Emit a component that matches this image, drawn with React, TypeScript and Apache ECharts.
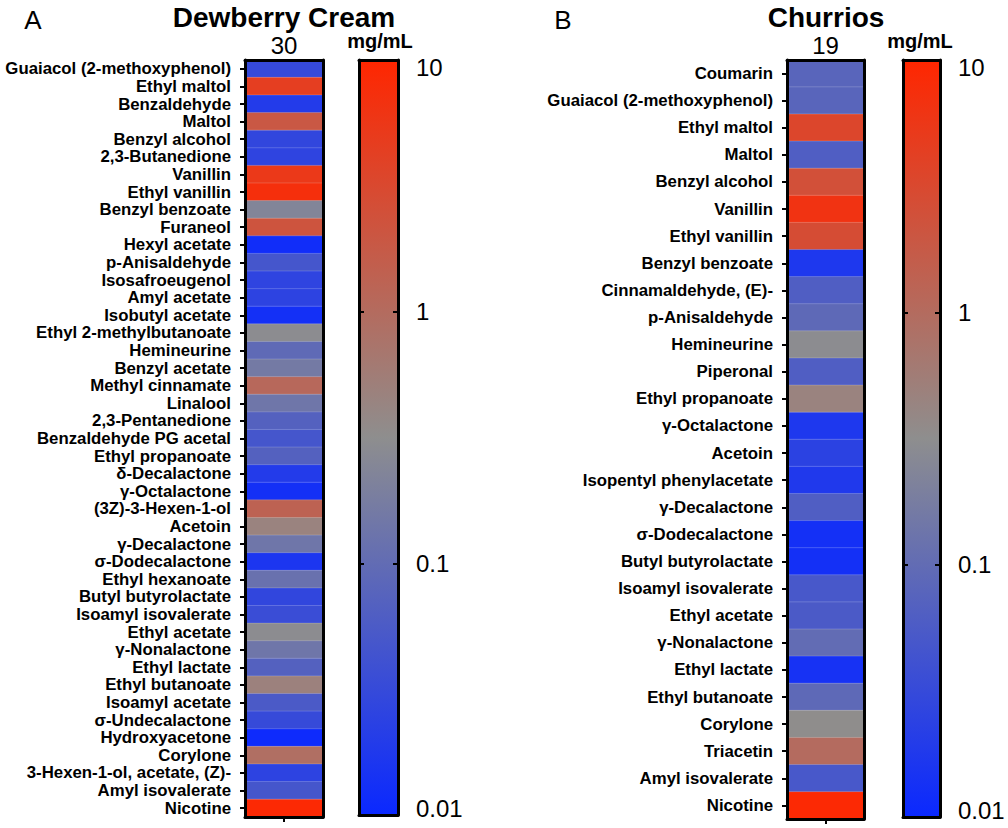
import React, { useEffect, useRef } from 'react';
import * as echarts from 'echarts';

// ---------- data ----------
const dewberryCompounds = [
  'Guaiacol (2-methoxyphenol)', 'Ethyl maltol', 'Benzaldehyde', 'Maltol', 'Benzyl alcohol',
  '2,3-Butanedione', 'Vanillin', 'Ethyl vanillin', 'Benzyl benzoate', 'Furaneol',
  'Hexyl acetate', 'p-Anisaldehyde', 'Isosafroeugenol', 'Amyl acetate', 'Isobutyl acetate',
  'Ethyl 2-methylbutanoate', 'Hemineurine', 'Benzyl acetate', 'Methyl cinnamate', 'Linalool',
  '2,3-Pentanedione', 'Benzaldehyde PG acetal', 'Ethyl propanoate', 'δ-Decalactone', 'γ-Octalactone',
  '(3Z)-3-Hexen-1-ol', 'Acetoin', 'γ-Decalactone', 'σ-Dodecalactone', 'Ethyl hexanoate',
  'Butyl butyrolactate', 'Isoamyl isovalerate', 'Ethyl acetate', 'γ-Nonalactone', 'Ethyl lactate',
  'Ethyl butanoate', 'Isoamyl acetate', 'σ-Undecalactone', 'Hydroxyacetone', 'Corylone',
  '3-Hexen-1-ol, acetate, (Z)-', 'Amyl isovalerate', 'Nicotine',
];
// mg/mL
const dewberryValues = [
  0.032, 4.5, 0.019, 1.9, 0.028,
  0.026, 5.4, 7.4, 0.23, 2.2,
  0.012, 0.047, 0.026, 0.025, 0.013,
  0.3, 0.093, 0.16, 1.1, 0.14,
  0.07, 0.047, 0.07, 0.019, 0.013,
  1.35, 0.45, 0.14, 0.016, 0.12,
  0.028, 0.035, 0.3, 0.14, 0.07,
  0.48, 0.055, 0.032, 0.011, 0.9,
  0.025, 0.047, 9,
];
const dewberryCount = ['30'];

const churriosCompounds = [
  'Coumarin', 'Guaiacol (2-methoxyphenol)', 'Ethyl maltol', 'Maltol', 'Benzyl alcohol',
  'Vanillin', 'Ethyl vanillin', 'Benzyl benzoate', 'Cinnamaldehyde, (E)-', 'p-Anisaldehyde',
  'Hemineurine', 'Piperonal', 'Ethyl propanoate', 'γ-Octalactone', 'Acetoin',
  'Isopentyl phenylacetate', 'γ-Decalactone', 'σ-Dodecalactone', 'Butyl butyrolactate', 'Isoamyl isovalerate',
  'Ethyl acetate', 'γ-Nonalactone', 'Ethyl lactate', 'Ethyl butanoate', 'Corylone',
  'Triacetin', 'Amyl isovalerate', 'Nicotine',
];
const churriosValues = [
  0.08, 0.08, 3.4, 0.062, 2.5,
  6.5, 2.8, 0.017, 0.062, 0.09,
  0.3, 0.062, 0.45, 0.017, 0.024,
  0.018, 0.062, 0.013, 0.013, 0.05,
  0.055, 0.1, 0.014, 0.09, 0.33,
  1.0, 0.05, 9,
];
const churriosCount = ['19'];

const scaleMin = 0.01;
const scaleMax = 10;
const unitLabel = 'mg/mL';

// ---------- styling ----------
const FONT = "'Liberation Sans', Arial, Helvetica, sans-serif";
const BLUE = '#0a28ff';
const GRAY = '#8e8e8e';
const RED = '#ff2600';

const border = { show: true, onZero: false, lineStyle: { color: '#000', width: 3 } };
const tickStyle = { color: '#000', width: 2 };

function buildOption() {
  const grids = [
    { left: 245, top: 60, width: 78, height: 757 },
    { left: 359, top: 60, width: 39, height: 755 },
    { left: 787, top: 60, width: 77, height: 759 },
    { left: 903, top: 60, width: 37, height: 757 },
  ];

  const heatX = (gridIndex: number, count: string[]) => [
    {
      gridIndex, type: 'category', data: [''], position: 'bottom', z: 5,
      axisLine: border,
      axisTick: { show: true, alignWithLabel: true, length: 5, lineStyle: tickStyle },
      axisLabel: { show: false }, splitLine: { show: false },
    },
    {
      gridIndex, type: 'category', data: count, position: 'top', z: 5,
      axisLine: border, axisTick: { show: false },
      axisLabel: { fontSize: 24, color: '#000', fontFamily: FONT, margin: 3 },
      splitLine: { show: false },
    },
  ];
  const barX = (gridIndex: number) => [
    {
      gridIndex, type: 'category', data: [''], position: 'bottom', z: 5,
      axisLine: border, axisTick: { show: false }, axisLabel: { show: false },
    },
    {
      gridIndex, type: 'category', data: [''], position: 'top', z: 5,
      axisLine: border, axisTick: { show: false }, axisLabel: { show: false },
    },
  ];
  const heatY = (gridIndex: number, names: string[]) => [
    {
      gridIndex, type: 'category', data: names, inverse: true, position: 'left', z: 5,
      axisLine: border,
      axisTick: { show: true, alignWithLabel: true, length: 5, lineStyle: tickStyle },
      axisLabel: {
        interval: 0, fontSize: 16.8, fontWeight: 'bold', color: '#000',
        fontFamily: FONT, margin: 14,
      },
      splitLine: { show: false },
    },
    {
      gridIndex, type: 'category', data: names, inverse: true, position: 'right', z: 5,
      axisLine: border, axisTick: { show: false }, axisLabel: { show: false },
    },
  ];
  const labelFmt = (v: number) => {
    const e = Math.round(Math.log10(v));
    if (e === Math.round(Math.log10(scaleMax))) return '{top|' + String(Math.pow(10, e)) + '}';
    if (e === Math.round(Math.log10(scaleMin))) return '{bot|' + String(Math.pow(10, e)) + '}';
    return '{mid|' + String(Math.pow(10, e)) + '}';
  };
  const richBase = { fontSize: 24, color: '#000', fontFamily: FONT };
  const barY = (gridIndex: number) => [
    {
      gridIndex, type: 'log', logBase: 10, min: scaleMin, max: scaleMax, position: 'left', z: 5,
      axisLine: border,
      axisTick: { show: true, inside: true, length: 5, lineStyle: tickStyle },
      axisLabel: { show: false }, splitLine: { show: false },
    },
    {
      gridIndex, type: 'log', logBase: 10, min: scaleMin, max: scaleMax, position: 'right', z: 5,
      axisLine: border,
      axisTick: { show: true, inside: true, length: 5, lineStyle: tickStyle },
      axisLabel: {
        margin: 18, formatter: labelFmt, fontSize: 24, color: '#000', fontFamily: FONT,
        rich: {
          top: { ...richBase, padding: [14, 0, 0, 0] },
          bot: { ...richBase, padding: [0, 0, 14, 0] },
          mid: { ...richBase },
        },
      },
      splitLine: { show: false },
    },
  ];

  const gradient = () =>
    new echarts.graphic.LinearGradient(0, 0, 0, 1, [
      { offset: 0, color: RED },
      { offset: 0.5, color: GRAY },
      { offset: 1, color: BLUE },
    ]);

  const colorbarSeries = (axisIndex: number) => ({
    type: 'custom',
    xAxisIndex: axisIndex,
    yAxisIndex: axisIndex,
    z: 1,
    data: [[0, scaleMax, scaleMin]],
    renderItem: (params: any, api: any) => {
      const p1 = api.coord([api.value(0), api.value(1)]);
      const p2 = api.coord([api.value(0), api.value(2)]);
      const cs = params.coordSys;
      return {
        type: 'rect',
        shape: { x: cs.x, y: p1[1], width: cs.width, height: p2[1] - p1[1] },
        style: { fill: gradient() },
      };
    },
  });

  const heatSeries = (axisIndex: number, values: number[]) => ({
    type: 'heatmap',
    xAxisIndex: axisIndex,
    yAxisIndex: axisIndex,
    z: 2,
    data: values.map((v, i) => [0, i, Math.log10(v)]),
    itemStyle: { borderColor: 'rgba(255,255,255,0.18)', borderWidth: 1 },
    emphasis: { disabled: true },
  });

  const txt = (text: string, x: number, y: number, size: number, bold: boolean) => ({
    type: 'text', x, y, z: 10,
    style: {
      text, fill: '#000', align: 'center', verticalAlign: 'middle',
      font: `${bold ? 'bold ' : ''}${size}px ${FONT}`,
    },
  });

  return {
    animation: false,
    backgroundColor: '#fff',
    grid: grids,
    xAxis: [...heatX(0, dewberryCount), ...barX(1), ...heatX(2, churriosCount), ...barX(3)],
    yAxis: [...heatY(0, dewberryCompounds), ...barY(1), ...heatY(2, churriosCompounds), ...barY(3)],
    visualMap: [
      {
        type: 'continuous', show: false, seriesIndex: [0, 2], dimension: 2,
        min: Math.log10(scaleMin), max: Math.log10(scaleMax),
        inRange: { color: [BLUE, GRAY, RED] },
      },
    ],
    series: [
      heatSeries(0, dewberryValues),
      colorbarSeries(2),
      heatSeries(4, churriosValues),
      colorbarSeries(6),
    ],
    graphic: [
      txt('A', 33, 20, 26, false),
      txt('Dewberry Cream', 284, 17, 28, true),
      txt(unitLabel, 380, 41, 20, true),
      txt('B', 563, 20, 26, false),
      txt('Churrios', 826, 17, 28, true),
      txt(unitLabel, 920, 41, 20, true),
    ],
  };
}

export default function App() {
  const ref = useRef<HTMLDivElement>(null);
  useEffect(() => {
    if (!ref.current) return;
    const chart = echarts.init(ref.current, undefined, { renderer: 'svg' });
    chart.setOption(buildOption() as any);
    return () => chart.dispose();
  }, []);
  return (
    <div
      ref={ref}
      style={{ position: 'absolute', left: 0, top: 0, width: 1008, height: 828 }}
    />
  );
}
